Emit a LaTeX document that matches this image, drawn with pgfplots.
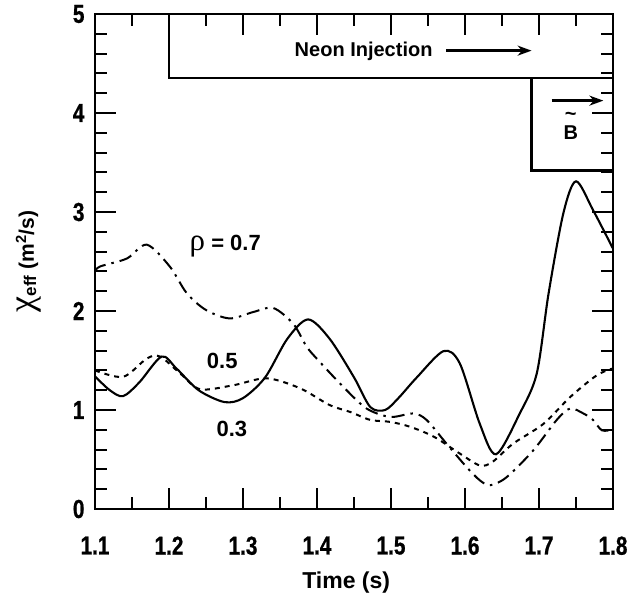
\documentclass[border=0pt]{standalone}
\usepackage{fontspec}
\setmainfont{Liberation Sans}
\newfontfamily\cond{Liberation Sans}[FakeStretch=0.8, FakeBold=0.8]
\newfontfamily\grk{Liberation Serif}
\usepackage{pgfplots}
\pgfplotsset{compat=1.18}
\usetikzlibrary{arrows.meta}
\pgfplotstableread{
x y
1.100 1.34
1.120 1.20
1.138 1.14
1.160 1.28
1.190 1.54
1.210 1.42
1.240 1.20
1.275 1.08
1.300 1.12
1.330 1.33
1.360 1.72
1.388 1.915
1.417 1.72
1.450 1.33
1.472 1.03
1.492 1.00
1.510 1.12
1.535 1.33
1.571 1.595
1.593 1.47
1.620 0.86
1.642 0.553
1.674 0.965
1.697 1.37
1.713 2.18
1.733 2.99
1.750 3.31
1.773 3.02
1.800 2.63
}\rhothree
\pgfplotstableread{
x y
1.100 1.40
1.138 1.335
1.170 1.52
1.188 1.54
1.215 1.37
1.242 1.21
1.287 1.25
1.332 1.32
1.377 1.22
1.417 1.05
1.445 0.98
1.472 0.90
1.499 0.88
1.526 0.83
1.558 0.73
1.593 0.56
1.620 0.44
1.637 0.475
1.665 0.66
1.706 0.86
1.742 1.13
1.778 1.35
1.800 1.42
}\rhofive
\pgfplotstableread{
x y
1.100 2.40
1.107 2.45
1.143 2.53
1.170 2.67
1.201 2.45
1.224 2.18
1.250 2.01
1.282 1.925
1.314 1.99
1.341 2.03
1.368 1.87
1.386 1.64
1.402 1.50
1.436 1.23
1.467 1.015
1.499 0.93
1.530 0.965
1.548 0.90
1.575 0.66
1.602 0.425
1.620 0.29
1.634 0.24
1.656 0.32
1.692 0.59
1.724 0.90
1.742 1.015
1.760 0.965
1.773 0.90
1.785 0.795
1.800 0.80
}\rhoseven
\begin{document}
\begin{tikzpicture}[x=1pt,y=1pt]
\useasboundingbox (0,0) rectangle (629,598);
\begin{axis}[
  at={(95pt,89pt)}, anchor=south west,
  scale only axis, width=518pt, height=495pt,
  xmin=1.1, xmax=1.8, ymin=0, ymax=5,
  xtick={1.1,1.2,1.3,1.4,1.5,1.6,1.7,1.8},
  xticklabels={1.1,1.2,1.3,1.4,1.5,1.6,1.7,1.8},
  ytick={0,1,2,3,4,5},
  yticklabels={0,1,2,3,4,5},
  minor xtick={1.15,1.25,1.35,1.45,1.55,1.65,1.75},
  minor ytick={0.2,0.4,0.6,0.8,1.2,1.4,1.6,1.8,2.2,2.4,2.6,2.8,3.2,3.4,3.6,3.8,4.2,4.4,4.6,4.8},
  tick align=inside,
  major tick length=21pt, minor tick length=12pt,
  every tick/.style={black, line width=2pt},
  axis line style={line width=2.6pt},
  tick label style={font=\cond\fontsize{26}{28}\selectfont\bfseries},
  xticklabel style={anchor=north, yshift=-24pt},
  yticklabel style={anchor=east, xshift=-7pt},
  xlabel={\fontsize{23}{25}\selectfont\bfseries Time (s)},
  ylabel={{\grk\fontsize{36}{38}\selectfont χ}\raisebox{-0.45ex}{\fontsize{17}{19}\selectfont\bfseries eff}\fontsize{21}{23}\selectfont\bfseries\ (m\textsuperscript{2}/s)},
  xlabel style={at={(axis description cs:0.485,-0.1495)}, anchor=center},
  ylabel style={at={(axis description cs:-0.128,0.5)}, anchor=center},
  clip=false,
]
\addplot[black, line width=2.1pt, smooth] table {\rhothree};
\addplot[black, line width=2pt, smooth, dash pattern=on 5pt off 5pt] table {\rhofive};
\addplot[black, line width=2pt, smooth, dash pattern=on 13pt off 6pt on 2.5pt off 6pt] table {\rhoseven};
\draw[line width=2.2pt] (axis cs:1.2,5) -- (axis cs:1.2,4.35) -- (axis cs:1.8,4.35);
\draw[line width=2.2pt] (axis cs:1.69,4.35) -- (axis cs:1.69,3.42) -- (axis cs:1.8,3.42);
\node[font=\fontsize{20}{22}\selectfont\bfseries] at (axis cs:1.463,4.62) {Neon Injection};
\draw[line width=2.4pt, -{Stealth[length=14pt,width=10pt]}] (axis cs:1.575,4.63) -- (axis cs:1.69,4.63);
\draw[line width=2.4pt, -{Stealth[length=14pt,width=10pt]}] (axis cs:1.717,4.125) -- (axis cs:1.787,4.125);
\node[font=\fontsize{20}{22}\selectfont\bfseries, align=center, inner sep=0pt] at (axis cs:1.743,3.87) {\textasciitilde\\[-3pt]B};
\node[font=\fontsize{22}{24}\selectfont\bfseries] at (axis cs:1.276,2.66) {{\grk\mdseries\fontsize{31}{32}\selectfont ρ} = 0.7};
\node[font=\fontsize{22}{24}\selectfont\bfseries] at (axis cs:1.272,1.50) {0.5};
\node[font=\fontsize{22}{24}\selectfont\bfseries] at (axis cs:1.285,0.81) {0.3};
\end{axis}
\end{tikzpicture}
\end{document}
